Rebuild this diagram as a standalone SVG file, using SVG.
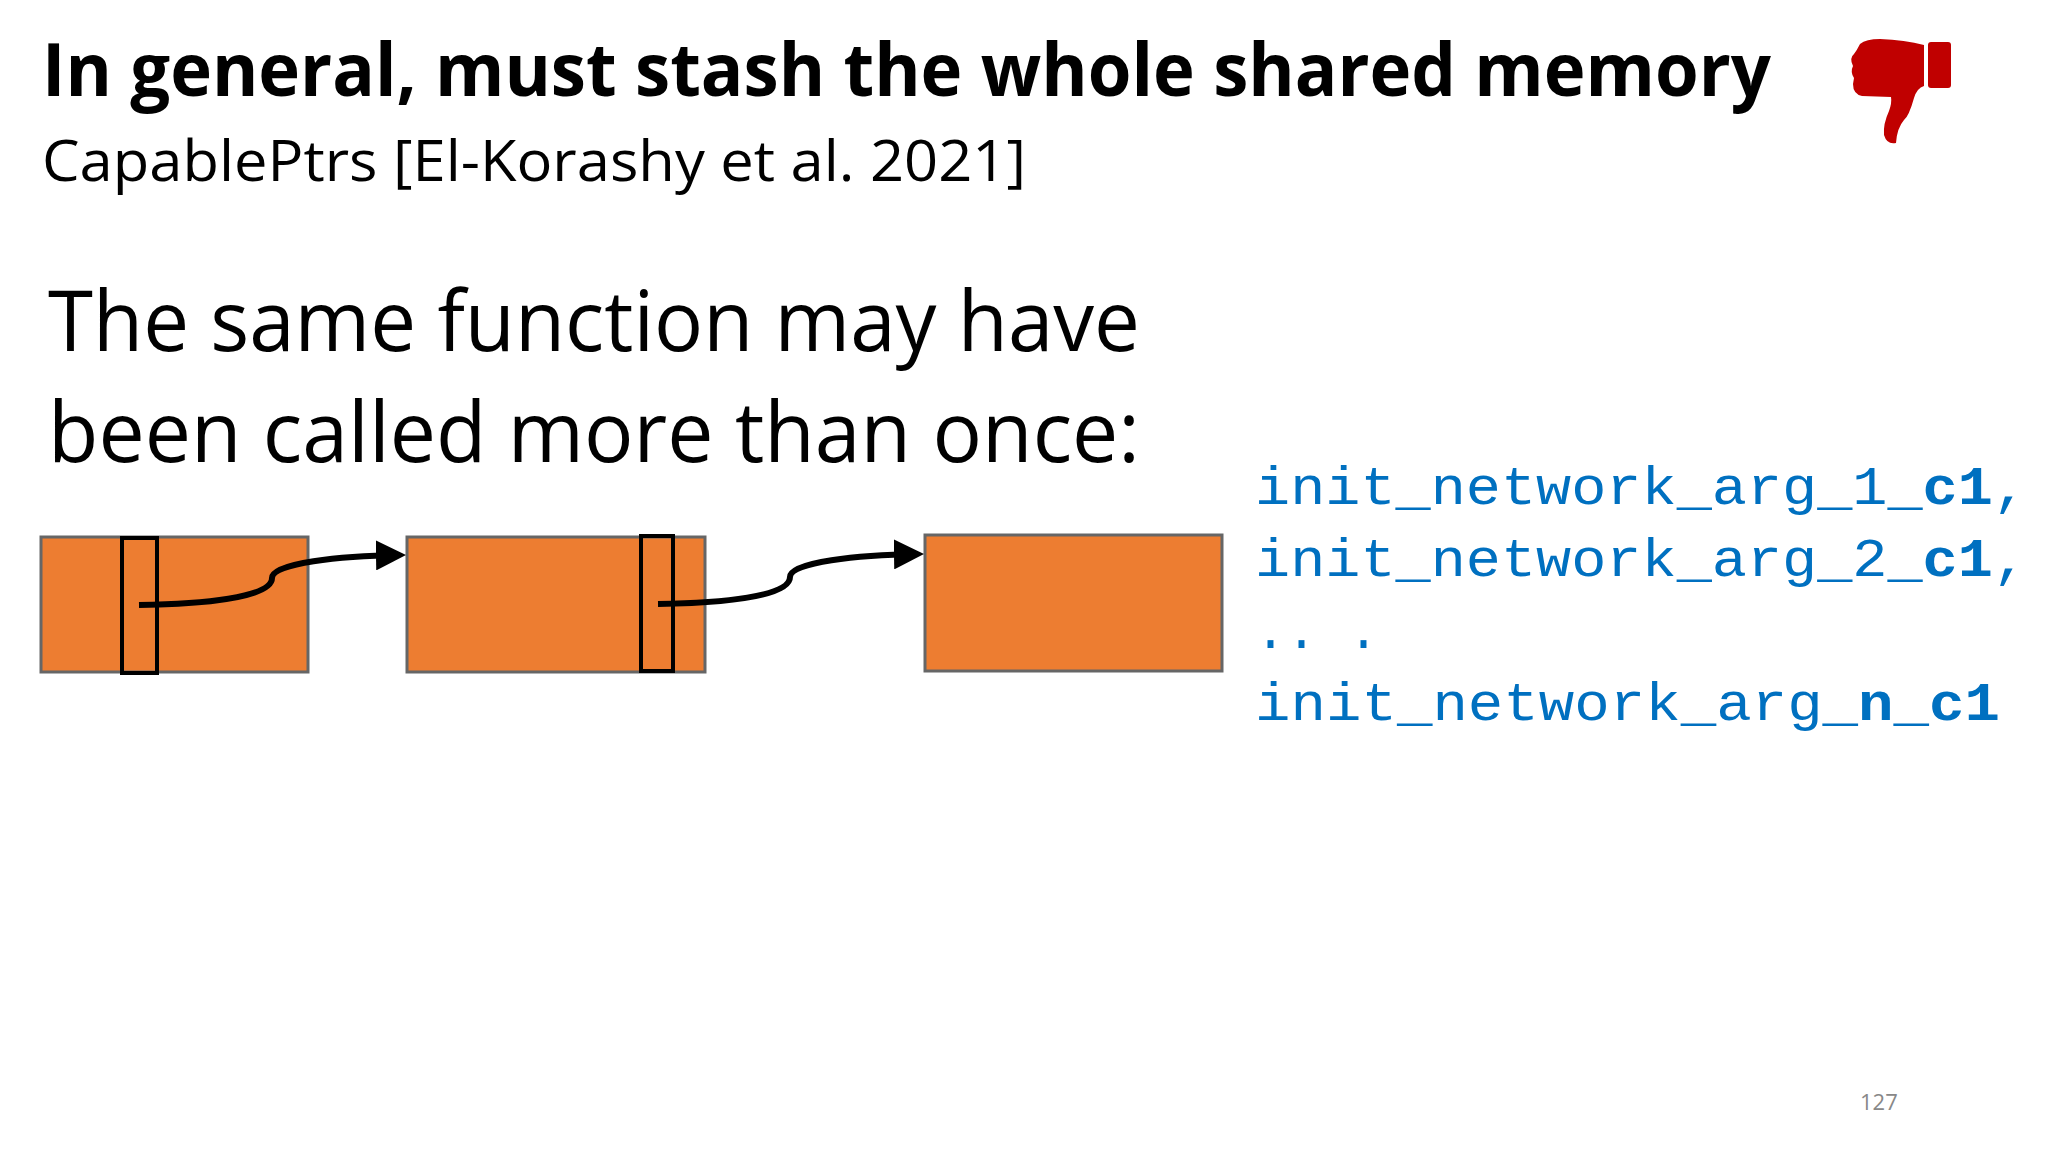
<svg xmlns="http://www.w3.org/2000/svg" width="2048" height="1152" viewBox="0 0 2048 1152">
<defs>
<style>
.t{font-family:"Open Sans","Liberation Sans",sans-serif;fill:#000}
.box{fill:#ED7D31;stroke:#666;stroke-width:3}
.ptr{fill:none;stroke:#000;stroke-width:4}
.code{font-family:"Liberation Mono",monospace;font-size:54px;fill:#0070C0}
.conn{fill:none;stroke:#000;stroke-width:6;marker-end:url(#ah)}
</style>
<marker id="ah" markerWidth="5" markerHeight="5" refX="4" refY="2.5" orient="auto" markerUnits="strokeWidth">
<path d="M0,0 L5,2.5 L0,5 Z" fill="#000"/>
</marker>
</defs>
<rect width="2048" height="1152" fill="#fff"/>
<text class="t" x="42" y="96" font-size="74" font-weight="bold" textLength="1729" lengthAdjust="spacingAndGlyphs">In general, must stash the whole shared memory</text>
<text class="t" x="42" y="181" font-size="56" textLength="984" lengthAdjust="spacingAndGlyphs">CapablePtrs [El-Korashy et al. 2021]</text>
<text class="t" x="48" y="351" font-size="84" textLength="1092" lengthAdjust="spacingAndGlyphs">The same function may have</text>
<text class="t" x="48" y="462" font-size="84" textLength="1092" lengthAdjust="spacingAndGlyphs">been called more than once:</text>
<g id="thumb">
<path fill="#C00000" d="M1860,44 Q1866,39 1880,39 Q1905,40 1924,45 L1924,86 Q1917,88 1914,98 Q1909,116 1904,120 Q1897,128 1896,143 Q1887,145 1884,135 Q1883,124 1889,111 Q1892,103 1891,97 L1862,96 Q1853,94 1853,84 L1854,78 Q1850,72 1853,66 Q1849,58 1854,54 Q1857,50 1860,44 Z"/>
<rect x="1928" y="42" width="23" height="46" rx="3" fill="#C00000"/>
</g>
<g id="node1"><rect class="box" x="41" y="537" width="267" height="135"/><rect class="ptr" x="122" y="538" width="35" height="135"/></g>
<g id="node2"><rect class="box" x="407" y="537" width="298" height="135"/><rect class="ptr" x="641" y="536" width="32" height="135"/></g>
<g id="node3"><rect class="box" x="925" y="535" width="297" height="136"/></g>
<g id="connectors">
<path class="conn" d="M139,605 C200,604 272,598 272,578 C272,563 340,556 400,555"/>
<path class="conn" d="M658,604 C720,603 790,597 790,577 C790,562 858,555 918,554"/>
</g>
<text class="code" x="1255" y="504" textLength="773" lengthAdjust="spacingAndGlyphs">init_network_arg_1<tspan font-weight="bold">_c1</tspan>,</text>
<text class="code" x="1255" y="576" textLength="773" lengthAdjust="spacingAndGlyphs">init_network_arg_2<tspan font-weight="bold">_c1</tspan>,</text>
<text class="code" x="1255" y="648" textLength="124" lengthAdjust="spacingAndGlyphs">.. .</text>
<text class="code" x="1255" y="720" textLength="745" lengthAdjust="spacingAndGlyphs">init_network_arg_<tspan font-weight="bold">n_c1</tspan></text>
<text class="t" x="1860" y="1110" font-size="22" style="fill:#888">127</text>
</svg>
